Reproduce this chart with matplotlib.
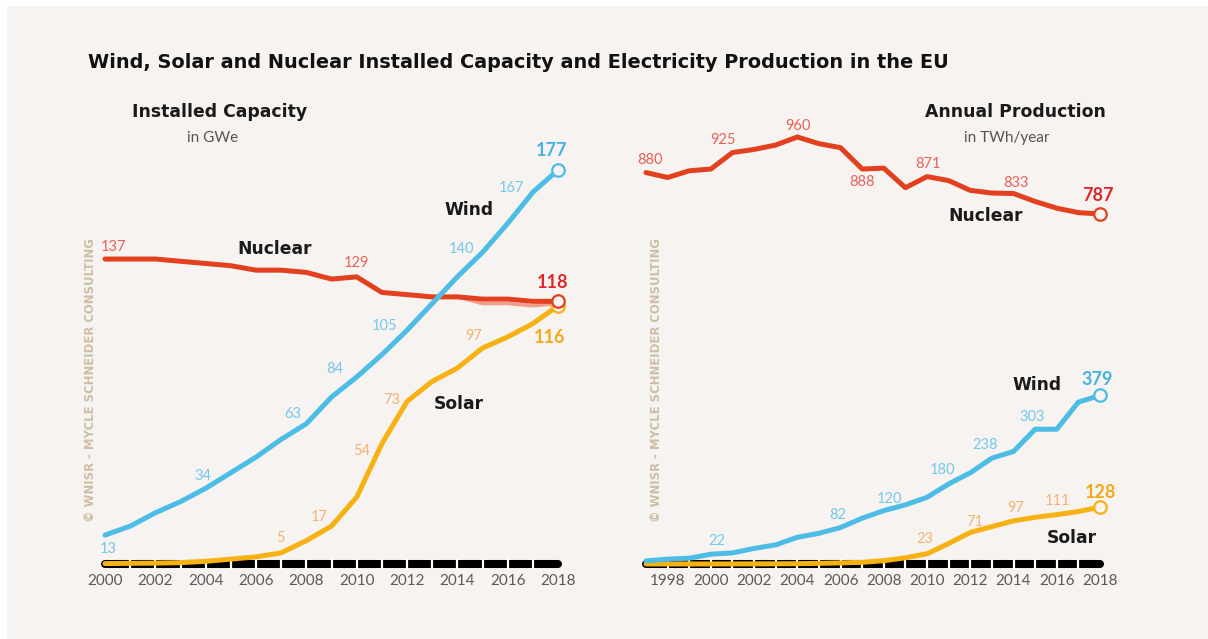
import matplotlib
matplotlib.use("Agg")
import matplotlib.pyplot as plt
from matplotlib.patches import Rectangle

plt.rcParams['font.family'] = ['Lato', 'DejaVu Sans']
HEAD = ['DejaVu Sans']

# Installed capacity (GWe), 2000-2018
cap_years = list(range(2000, 2019))
cap_wind = [13, 17, 23, 28, 34, 41, 48, 56, 63, 75, 84, 94, 105, 117, 129, 140, 153, 167, 177]
cap_solar = [0.2, 0.3, 0.4, 0.6, 1.2, 2.2, 3.2, 5, 10.5, 17, 30, 54, 73, 82, 88, 97, 102, 108, 116]
cap_nuclear = [137, 137, 137, 136, 135, 134, 132, 132, 131, 128, 129, 122, 121, 120, 120, 119, 119, 118, 118]
cap_nuclear_low_years = [2014, 2015, 2016, 2017, 2018]
cap_nuclear_low = [120, 117, 117, 116, 117]

# Annual production (TWh/year), 1997-2018
prod_years = list(range(1997, 2019))
prod_nuclear = [880, 869, 884, 888, 925, 932, 942, 960, 945, 936, 888, 890, 846, 871, 862, 840,
                834, 833, 815, 800, 790, 787]
prod_wind = [7, 11, 13, 22, 25, 35, 43, 60, 69, 82, 103, 120, 133, 150, 180, 205, 238, 253, 303,
             303, 364, 379]
prod_solar = [0.1, 0.1, 0.1, 0.1, 0.2, 0.3, 0.5, 0.7, 1.5, 2.5, 3.8, 7.4, 14, 23, 46, 71, 84, 97,
              105, 111, 118, 128]

# labelled points: (year, value, dx px, dy px)
cap_wind_labels = [(2000, 13, 3, -14), (2004, 34, -3, 12), (2008, 63, -14, 10), (2010, 84, -22, 8),
                   (2012, 105, -22, 4), (2015, 140, -21, 3), (2017, 167, -21, 4)]
cap_solar_labels = [(2007, 5, -1, 15), (2009, 17, -12, 9), (2011, 54, -20, -7), (2012, 73, -15, 2),
                    (2015, 97, -9, 12)]
cap_nuclear_labels = [(2000, 137, 9, 12), (2010, 129, 0, 14)]
prod_nuclear_labels = [(1997, 880, 4, 13), (2001, 925, -9, 13), (2004, 960, 1, 11),
                       (2007, 888, 0, -13), (2010, 871, 1, 13), (2014, 833, 2, 10)]
prod_wind_labels = [(2000, 22, 6, 13), (2006, 82, -3, 13), (2008, 120, 6, 12), (2011, 180, -6, 14),
                    (2013, 238, -7, 13), (2015, 303, -3, 12)]
prod_solar_labels = [(2010, 23, -2, 15), (2012, 71, 4, 10), (2014, 97, 2, 13), (2016, 111, 1, 14)]

BG = '#f6f3f1'
WIND = '#4dbde6'
SOLAR = '#f6b213'
NUC = '#e2401f'
WIND_LBL = '#72c9eb'
SOLAR_LBL = '#f2b473'
NUC_LBL = '#e6625a'
WIND_END = '#45b3e0'
SOLAR_END = '#f2aa1c'
NUC_END = '#e0262b'
TAN = '#cdbfa4'
DARK = '#1a1a1a'

W, H = 1208, 639
fig = plt.figure(figsize=(W / 100, H / 100), dpi=100, facecolor='white')
fig.patches.append(Rectangle((7 / W, 0), 1, (H - 6) / H, transform=fig.transFigure,
                             facecolor=BG, edgecolor='none', zorder=-10))


def add_axes(x0, x1, y0, y1):
    # pixel box -> figure fraction
    ax = fig.add_axes([x0 / W, (H - y0) / H, (x1 - x0) / W, (y0 - y1) / H])
    ax.patch.set_visible(False)
    for s in ax.spines.values():
        s.set_visible(False)
    ax.set_yticks([])
    ax.tick_params(axis='x', length=0, pad=7, labelsize=11, labelcolor='#5a5a5a')
    return ax


def baseline(ax, years):
    ax.plot([years[0], years[-1]], [0, 0], color='black', lw=5.8, solid_capstyle='round',
            zorder=1, clip_on=False)
    ax.plot(years[1:-1], [0] * (len(years) - 2), linestyle='none', marker='|', color='white',
            markersize=7.5, mew=1.6, zorder=1.5, clip_on=False)


def series(ax, x, y, color):
    ax.plot(x, y, color=color, lw=3.6, solid_joinstyle='round', solid_capstyle='round',
            zorder=3, clip_on=False)
    ax.plot(x[-1], y[-1], marker='o', markersize=9, mfc=BG, mec=color, mew=1.6, zorder=4,
            clip_on=False)


def labels(ax, pts, color, size=10.5, weight='normal'):
    for yr, v, dx, dy in pts:
        ax.annotate(f"{v}", xy=(yr, v), xytext=(dx, dy), textcoords='offset pixels',
                    ha='center', va='center', color=color, fontsize=size, fontweight=weight)


def name(ax, x, y, s):
    ax.text(x, y, s, fontsize=12.3, fontweight='bold', color=DARK, ha='center', va='center',
            family=HEAD)


# ---- left: installed capacity
ax1 = add_axes(105, 558, 564, 170)
ax1.set_xlim(2000, 2018)
ax1.set_ylim(0, 177)
baseline(ax1, cap_years)
ax1.plot(cap_nuclear_low_years, cap_nuclear_low, color='#f0a08a', lw=2.5, zorder=2.5)
series(ax1, cap_years, cap_solar, SOLAR)
series(ax1, cap_years, cap_nuclear, NUC)
series(ax1, cap_years, cap_wind, WIND)
ax1.set_xticks(cap_years[::2])
ax1.set_xticklabels([str(y) for y in cap_years[::2]])
labels(ax1, cap_wind_labels, WIND_LBL)
labels(ax1, cap_solar_labels, SOLAR_LBL)
labels(ax1, cap_nuclear_labels, NUC_LBL)
labels(ax1, [(2018, cap_wind[-1], -6, 19)], WIND_END, 13, 'bold')
labels(ax1, [(2018, cap_nuclear[-1], -5, 19)], NUC_END, 13, 'bold')
labels(ax1, [(2018, cap_solar[-1], -8, -32)], SOLAR_END, 13, 'bold')
name(ax1, 2006.75, 141.5, "Nuclear")
name(ax1, 2014.45, 159, "Wind")
name(ax1, 2014.05, 72, "Solar")

# ---- right: annual production
ax2 = add_axes(646, 1100, 564, 137)
ax2.set_xlim(1997, 2018)
ax2.set_ylim(0, 960)
baseline(ax2, prod_years)
series(ax2, prod_years, prod_solar, SOLAR)
series(ax2, prod_years, prod_wind, WIND)
series(ax2, prod_years, prod_nuclear, NUC)
ax2.set_xticks(prod_years[1::2])
ax2.set_xticklabels([str(y) for y in prod_years[1::2]])
labels(ax2, prod_nuclear_labels, NUC_LBL)
labels(ax2, prod_wind_labels, WIND_LBL)
labels(ax2, prod_solar_labels, SOLAR_LBL)
labels(ax2, [(2018, prod_nuclear[-1], -2, 18)], NUC_END, 13, 'bold')
labels(ax2, [(2018, prod_wind[-1], -3, 16)], WIND_END, 13, 'bold')
labels(ax2, [(2018, prod_solar[-1], 0, 15)], SOLAR_END, 13, 'bold')
name(ax2, 2012.7, 782, "Nuclear")
name(ax2, 2015.1, 402, "Wind")
name(ax2, 2016.7, 58, "Solar")

# ---- titles and notes
fig.text(88 / W, 1 - 62 / H, "Wind, Solar and Nuclear Installed Capacity and Electricity Production in the EU",
         fontsize=13.9, fontweight='bold', color='#111111', ha='left', va='center', family=HEAD)
fig.text(220 / W, 1 - 112 / H, "Installed Capacity", fontsize=12.4, fontweight='bold',
         color=DARK, ha='center', va='center', family=HEAD)
fig.text(213 / W, 1 - 138 / H, "in GWe", fontsize=11, color='#555555', ha='center', va='center')
fig.text(1015 / W, 1 - 112 / H, "Annual Production", fontsize=12.4, fontweight='bold',
         color=DARK, ha='center', va='center', family=HEAD)
fig.text(1007 / W, 1 - 138 / H, "in TWh/year", fontsize=11, color='#555555', ha='center', va='center')

wm = "© WNISR - MYCLE SCHNEIDER CONSULTING"
fig.text(91 / W, 1 - 380 / H, wm, rotation=90, fontsize=8.4, fontweight='bold', color=TAN,
         ha='center', va='center', family=HEAD)
fig.text(657 / W, 1 - 380 / H, wm, rotation=90, fontsize=8.4, fontweight='bold', color=TAN,
         ha='center', va='center', family=HEAD)

fig.savefig("out.png", dpi=100, facecolor=fig.get_facecolor())
